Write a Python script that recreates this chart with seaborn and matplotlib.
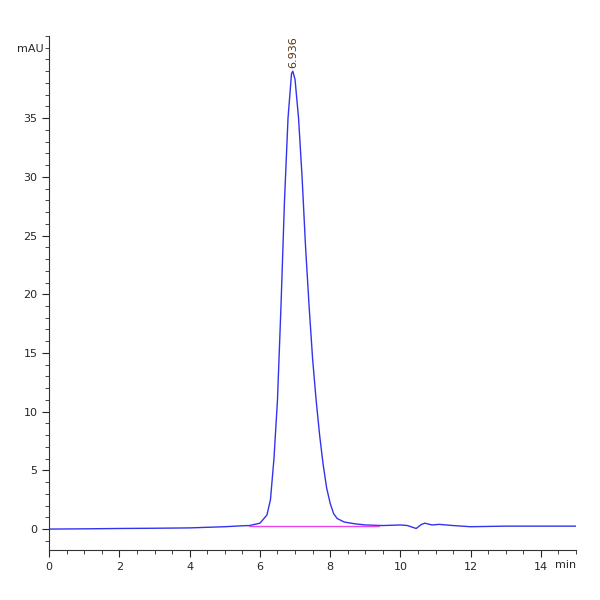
import matplotlib
matplotlib.use("Agg")
import matplotlib.pyplot as plt
import seaborn as sns
import pandas as pd
from matplotlib.ticker import MultipleLocator, FixedLocator

time_min = [0, 1, 2, 3, 4, 5, 5.5, 5.7, 6.0, 6.2, 6.3, 6.4, 6.5, 6.6, 6.7, 6.8, 6.9, 6.936, 7.0,
            7.1, 7.2, 7.3, 7.4, 7.5, 7.6, 7.7, 7.8, 7.9, 8.0, 8.1, 8.2, 8.4, 8.7, 9.0, 9.5, 10.0, 10.2,
            10.45, 10.6, 10.7, 10.9, 11.1, 11.5, 12.0, 13.0, 14.0, 15.0]
signal_mau = [0.0, 0.02, 0.05, 0.07, 0.1, 0.2, 0.28, 0.3, 0.5, 1.2, 2.5, 6, 11, 19, 28, 35, 38.8, 39, 38.3,
              35, 30, 24, 19, 14.5, 11, 8, 5.5, 3.5, 2.2, 1.3, 0.9, 0.6, 0.45, 0.35, 0.3, 0.35, 0.3,
              0.05, 0.4, 0.5, 0.35, 0.4, 0.3, 0.2, 0.25, 0.25, 0.25]
baseline_t = [5.7, 9.4]
baseline_v = [0.28, 0.28]
peak_label = "6.936"

sns.set_style("white")
fig, ax = plt.subplots(figsize=(6, 6), dpi=100)
fig.subplots_adjust(left=0.082, right=0.96, bottom=0.083, top=0.94)
df = pd.DataFrame({"t": time_min, "v": signal_mau})
sns.lineplot(data=df, x="t", y="v", ax=ax, color="#3333ee", lw=1)
ax.plot(baseline_t, baseline_v, color="#ee44ee", lw=1)
ax.text(6.936, 39.3, peak_label, rotation=90, ha="center", va="bottom", fontsize=8, color="#553311")
ax.set_xlim(0, 15)
ax.set_ylim(-1.8, 42)
ax.xaxis.set_major_locator(MultipleLocator(2))
ax.xaxis.set_minor_locator(MultipleLocator(0.5))
ax.yaxis.set_major_locator(FixedLocator([0, 5, 10, 15, 20, 25, 30, 35]))
ax.yaxis.set_minor_locator(MultipleLocator(1))
ax.tick_params(which="both", direction="out", bottom=True, left=True, labelsize=8)
ax.tick_params(which="major", length=5)
ax.tick_params(which="minor", length=3)
for s in ["top", "right"]:
    ax.spines[s].set_visible(False)
for s in ["left", "bottom"]:
    ax.spines[s].set_color("#333333")
    ax.spines[s].set_linewidth(0.8)
ax.set_xlabel(""); ax.set_ylabel("")
ax.text(-0.01, 0.985, "mAU", transform=ax.transAxes, ha="right", va="top", fontsize=8)
ax.text(1.0, -0.02, "min", transform=ax.transAxes, ha="right", va="top", fontsize=8)
fig.savefig("out.png")
